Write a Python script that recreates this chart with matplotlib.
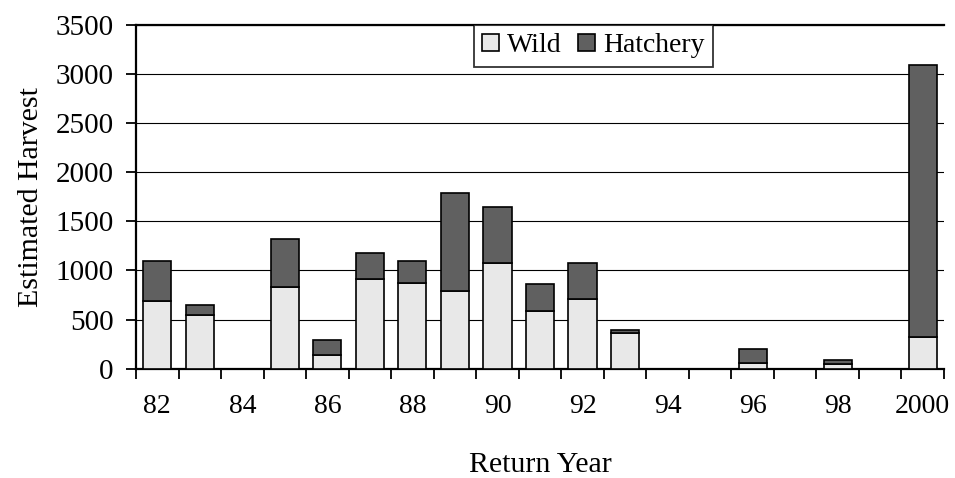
import matplotlib.pyplot as plt
import numpy as np

plt.rcParams['font.family'] = ['Liberation Serif', 'DejaVu Serif']

years = ['82', '83', '84', '85', '86', '87', '88', '89', '90', '91',
         '92', '93', '94', '95', '96', '97', '98', '99', '2000']
wild = [690, 550, 0, 830, 140, 915, 875, 790, 1075, 590,
        710, 365, 0, 0, 60, 0, 45, 0, 325]
hatchery = [410, 100, 0, 490, 150, 265, 225, 1000, 575, 270,
            370, 25, 0, 0, 145, 0, 40, 0, 2765]
tick_labels = ['82', '84', '86', '88', '90', '92', '94', '96', '98', '2000']

x = np.arange(len(years))
wild = np.array(wild)
hatchery = np.array(hatchery)

fig = plt.figure(figsize=(9.55, 4.78), dpi=100)
ax = fig.add_axes([0.1424, 0.2287, 0.8461, 0.719])

has = (wild + hatchery) > 0
ax.bar(x[has], wild[has], width=0.66, color='#e8e8e8', edgecolor='black',
       linewidth=1.2, label='Wild', zorder=3)
ax.bar(x[has], hatchery[has], bottom=wild[has], width=0.66, color='#606060',
       edgecolor='black', linewidth=1.2, label='Hatchery', zorder=3)

ax.set_xlim(-0.5, len(years) - 0.5)
ax.set_ylim(0, 3500)
ax.set_yticks(np.arange(0, 3501, 500))
ax.yaxis.grid(True, color='black', linewidth=0.8, zorder=0)
ax.tick_params(axis='y', direction='out', length=7, width=1.3, labelsize=21, pad=9)

ax.set_xticks(np.arange(-0.5, len(years), 1))
ax.set_xticklabels([])
ax.tick_params(axis='x', which='major', direction='out', length=7, width=1.3)
ax.set_xticks(np.arange(0, len(years), 2), minor=True)
ax.set_xticklabels(tick_labels, minor=True)
ax.tick_params(axis='x', which='minor', length=0, labelsize=20, pad=18)

for s in ['left', 'bottom', 'top']:
    ax.spines[s].set_linewidth(1.6)
ax.spines['right'].set_visible(False)

ax.set_xlabel('Return Year', fontsize=21.5, labelpad=24)
ax.set_ylabel('Estimated Harvest', fontsize=21.5, labelpad=8)

leg = ax.legend(loc='upper center', bbox_to_anchor=(0.566, 1.0), ncol=2,
                frameon=True, fancybox=False, fontsize=20, borderaxespad=0,
                handlelength=0.6, handleheight=0.6, handletextpad=0.3,
                columnspacing=0.6, borderpad=0.3)
leg.get_frame().set_edgecolor('black')
leg.get_frame().set_linewidth(1.3)
leg.set_zorder(5)

fig.savefig('out.png', dpi=100)
